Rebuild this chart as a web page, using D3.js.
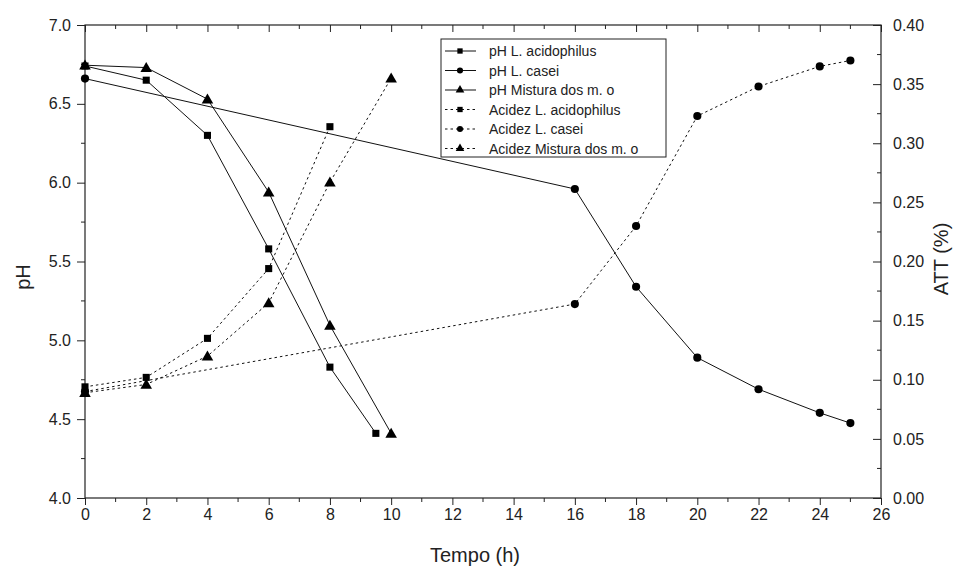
<!DOCTYPE html>
<html>
<head>
<meta charset="utf-8">
<script src="https://cdn.jsdelivr.net/npm/d3@7"></script>
<style>
  body { margin: 0; background: #fff; }
  svg { font-family: "Liberation Sans", Arial, sans-serif; }
</style>
</head>
<body>
<div id="chart"></div>
<script>
// pH series (left axis)
var timeAcido = [0, 2, 4, 6, 8, 9.5];
var phAcido = [6.74, 6.65, 6.30, 5.58, 4.83, 4.41];
var timeCasei = [0, 16, 18, 20, 22, 24, 25];
var phCasei = [6.66, 5.96, 5.34, 4.89, 4.69, 4.54, 4.475];
var timeMistura = [0, 2, 4, 6, 8, 10];
var phMistura = [6.745, 6.73, 6.53, 5.94, 5.095, 4.41];

// acidity series (right axis, ATT %)
var timeAttAcido = [0, 2, 4, 6, 8];
var attAcido = [0.094, 0.102, 0.135, 0.194, 0.314];
var attCasei = [0.09, 0.164, 0.23, 0.323, 0.348, 0.365, 0.370];
var attMistura = [0.089, 0.096, 0.12, 0.165, 0.267, 0.355];

var xTicks = d3.range(0, 27, 2);
var phTicks = [4.0, 4.5, 5.0, 5.5, 6.0, 6.5, 7.0];
var attTicks = [0, 0.05, 0.10, 0.15, 0.20, 0.25, 0.30, 0.35, 0.40];

var series = [
  {name: "pH L. acidophilus", t: timeAcido, v: phAcido, axis: "ph", sym: "square", dash: null},
  {name: "pH L. casei", t: timeCasei, v: phCasei, axis: "ph", sym: "circle", dash: null},
  {name: "pH Mistura dos m. o", t: timeMistura, v: phMistura, axis: "ph", sym: "triangle", dash: null},
  {name: "Acidez L. acidophilus", t: timeAttAcido, v: attAcido, axis: "att", sym: "square", dash: "2.5,3"},
  {name: "Acidez L. casei", t: timeCasei, v: attCasei, axis: "att", sym: "circle", dash: "2.5,3"},
  {name: "Acidez Mistura dos m. o", t: timeMistura, v: attMistura, axis: "att", sym: "triangle", dash: "2.5,3"}
];

var W = 962, H = 568;
var plot = {left: 85, right: 881, top: 25, bottom: 498};

var svg = d3.select("#chart").append("svg")
    .attr("width", W)
    .attr("height", H);

var x = d3.scaleLinear().domain([0, 26]).range([plot.left, plot.right]);
var yPh = d3.scaleLinear().domain([4, 7]).range([plot.bottom, plot.top]);
var yAtt = d3.scaleLinear().domain([0, 0.4]).range([plot.bottom, plot.top]);

var ink = "#222";

// frame
svg.append("rect")
    .attr("x", plot.left).attr("y", plot.top)
    .attr("width", plot.right - plot.left).attr("height", plot.bottom - plot.top)
    .attr("fill", "none").attr("stroke", ink).attr("stroke-width", 1.2);

// bottom axis (outward ticks)
var gx = svg.append("g").attr("transform", "translate(0," + plot.bottom + ")")
    .call(d3.axisBottom(x).tickValues(xTicks).tickSize(7).tickPadding(4).tickFormat(d3.format("d")));
// top axis, ticks pointing down into plot
var gxTop = svg.append("g").attr("transform", "translate(0," + plot.top + ")")
    .call(d3.axisBottom(x).tickValues(xTicks).tickSize(7).tickFormat(""));
var xMinor = d3.range(1, 26, 2);
[gx, gxTop].forEach(function(g){
  g.selectAll(".minor").data(xMinor).enter().append("line")
      .attr("class", "minor")
      .attr("x1", function(d){ return x(d); }).attr("x2", function(d){ return x(d); })
      .attr("y1", 0).attr("y2", 4)
      .attr("stroke", ink);
});

// left axis (outward)
var gy = svg.append("g").attr("transform", "translate(" + plot.left + ",0)")
    .call(d3.axisLeft(yPh).tickValues(phTicks).tickSize(8).tickPadding(6).tickFormat(d3.format(".1f")));
gy.selectAll(".minor").data(d3.range(4.25, 7, 0.5)).enter().append("line")
    .attr("class", "minor")
    .attr("y1", function(d){ return yPh(d); }).attr("y2", function(d){ return yPh(d); })
    .attr("x1", 0).attr("x2", -4).attr("stroke", ink);

// right axis, ticks pointing left into plot
var gyr = svg.append("g").attr("transform", "translate(" + plot.right + ",0)")
    .call(d3.axisRight(yAtt).tickValues(attTicks).tickSize(-8).tickPadding(12).tickFormat(d3.format(".2f")));
gyr.selectAll(".minor").data(d3.range(0.025, 0.4, 0.05)).enter().append("line")
    .attr("class", "minor")
    .attr("y1", function(d){ return yAtt(d); }).attr("y2", function(d){ return yAtt(d); })
    .attr("x1", 0).attr("x2", -4).attr("stroke", ink);

svg.selectAll(".domain").remove();
svg.selectAll(".tick line").attr("stroke", ink);
svg.selectAll(".tick text")
    .attr("font-family", "Liberation Sans, Arial, sans-serif")
    .attr("font-size", 16)
    .attr("fill", ink);

// axis titles
svg.append("text")
    .attr("x", (plot.left + plot.right) / 2 - 8).attr("y", 562)
    .attr("text-anchor", "middle")
    .attr("font-size", 20).attr("fill", ink)
    .text("Tempo (h)");
svg.append("text")
    .attr("transform", "translate(30,277) rotate(-90)")
    .attr("text-anchor", "middle")
    .attr("font-size", 20).attr("fill", ink)
    .text("pH");
svg.append("text")
    .attr("transform", "translate(948,259) rotate(-90)")
    .attr("text-anchor", "middle")
    .attr("font-size", 20).attr("fill", ink)
    .text("ATT (%)");

function symbolPath(sym) {
  var type = sym === "square" ? d3.symbolSquare : sym === "circle" ? d3.symbolCircle : d3.symbolTriangle;
  var size = sym === "square" ? 50 : sym === "circle" ? 52 : 58;
  return d3.symbol().type(type).size(size)();
}

// series
series.forEach(function(s){
  var yScale = s.axis === "ph" ? yPh : yAtt;
  var pts = s.t.map(function(t, i){ return [x(t), yScale(s.v[i])]; });
  svg.append("path")
      .attr("d", d3.line()(pts))
      .attr("fill", "none")
      .attr("stroke", "#111")
      .attr("stroke-width", 1)
      .attr("stroke-dasharray", s.dash);
  svg.selectAll(null).data(pts).enter().append("path")
      .attr("d", symbolPath(s.sym))
      .attr("transform", function(p){ return "translate(" + p[0] + "," + (p[1] + (s.sym === "triangle" ? 1 : 0)) + ")"; })
      .attr("fill", "#000");
});

// legend
var lg = svg.append("g");
lg.append("rect")
    .attr("x", 441).attr("y", 39).attr("width", 225).attr("height", 118)
    .attr("fill", "#fff").attr("stroke", ink).attr("stroke-width", 1);
series.forEach(function(s, i){
  var cy = 51 + i * 19.5;
  lg.append("line")
      .attr("x1", 445).attr("x2", 476).attr("y1", cy).attr("y2", cy)
      .attr("stroke", "#111").attr("stroke-dasharray", s.dash);
  lg.append("path")
      .attr("d", symbolPath(s.sym))
      .attr("transform", "translate(460," + cy + ") scale(0.75)")
      .attr("fill", "#000");
  lg.append("text")
      .attr("x", 489).attr("y", cy + 5)
      .attr("font-size", 14).attr("fill", ink)
      .text(s.name);
});
</script>
</body>
</html>
